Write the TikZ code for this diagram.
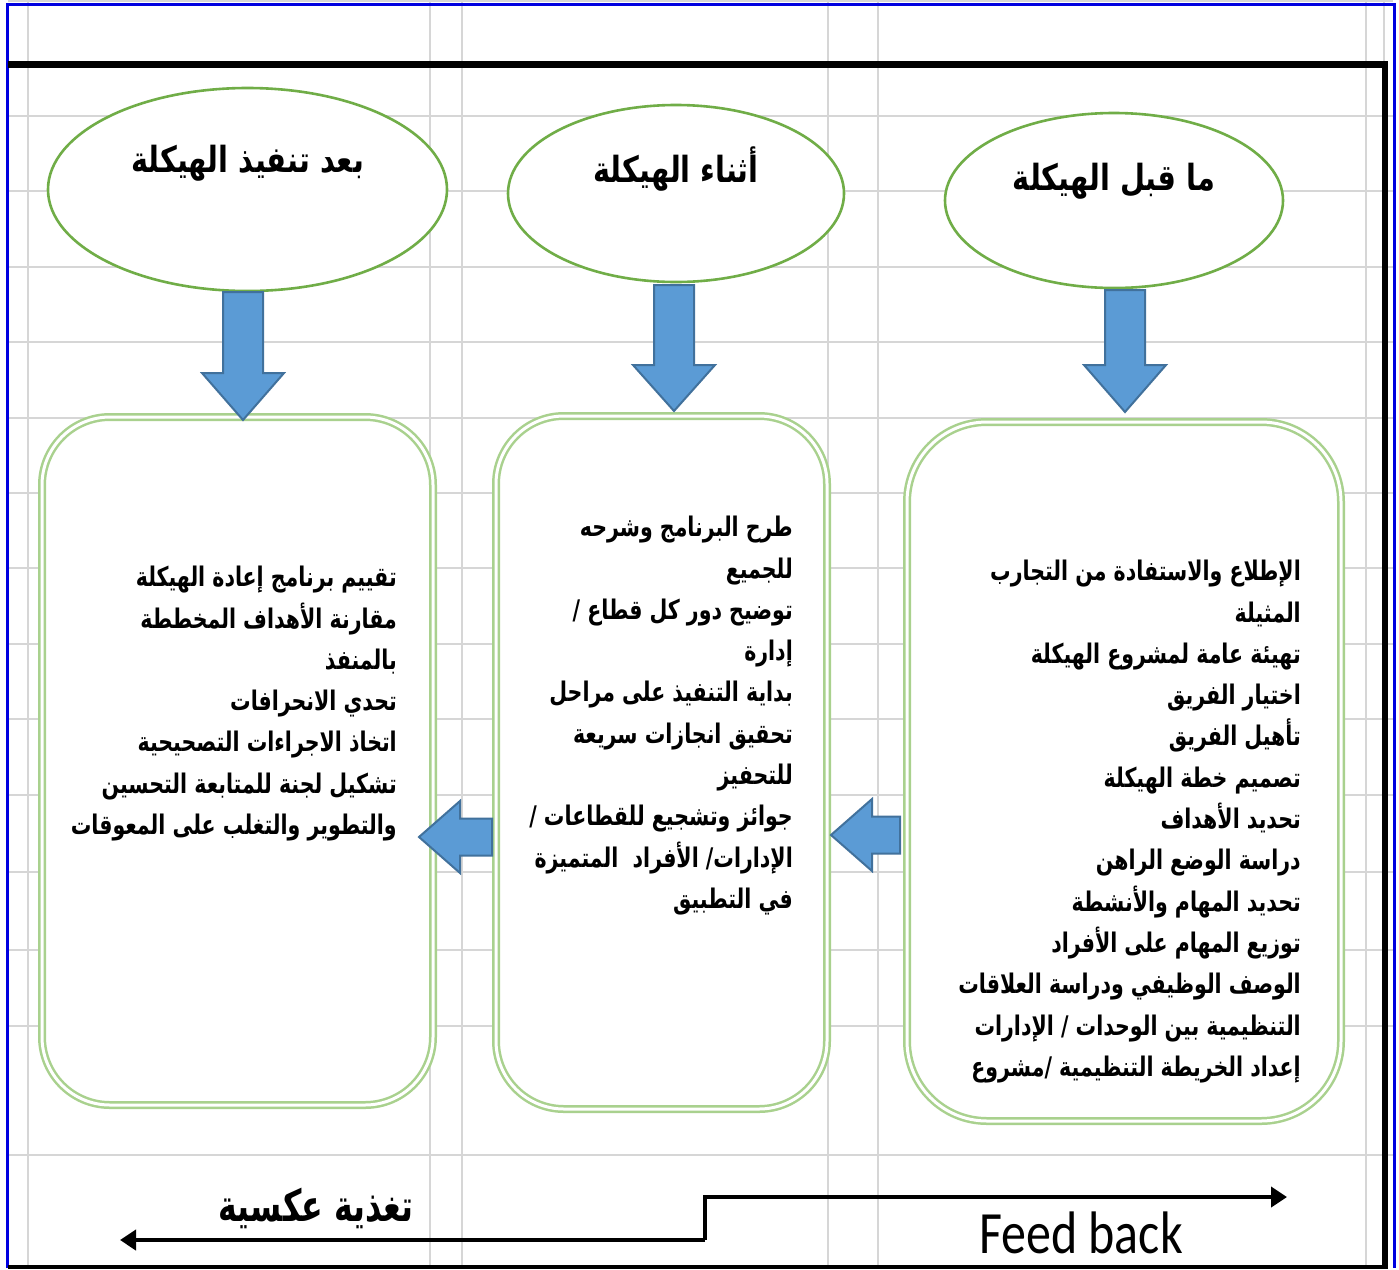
\documentclass[tikz,border=0pt]{standalone}
\usepackage{fontspec}
\TeXXeTstate=1
\newfontfamily\arabody[Script=Arabic,FakeStretch=0.76]{DejaVu Sans}
\newfontfamily\aratitle[Script=Arabic,FakeStretch=0.8]{DejaVu Sans}
\newfontfamily\arafb[Script=Arabic,FakeStretch=0.72]{DejaVu Sans}
\newfontfamily\latfont{Carlito}
\usetikzlibrary{arrows.meta,shapes.geometric}
\definecolor{gridc}{HTML}{D6D6D6}
\definecolor{ellc}{HTML}{70AD47}
\definecolor{boxc}{HTML}{A9D18E}
\definecolor{arrf}{HTML}{5B9BD5}
\definecolor{arrd}{HTML}{41719C}
\definecolor{framec}{HTML}{0000E0}
\newcommand\myR[1]{\beginR #1\endR}
\newcommand\dnarrow[4]{\draw[blockarr] (#1-20,#2) -- (#1+20,#2) -- (#1+20,#3) -- (#1+41,#3) -- (#1,#4) -- (#1-41,#3) -- (#1-20,#3) -- cycle;}
\newcommand\lfarrow[4]{\draw[blockarr] (#4,#2-18.5) -- (#3,#2-18.5) -- (#3,#2-36) -- (#1,#2) -- (#3,#2+36) -- (#3,#2+18.5) -- (#4,#2+18.5) -- cycle;}
\tikzset{
  gridline/.style={draw=gridc, line width=2.2pt},
  ell/.style={ellipse, draw=ellc, line width=2.6pt, fill=white, inner sep=0pt},
  tbox/.style={rectangle, rounded corners=68pt, draw=boxc, line width=2.5pt, double=white, double distance=3pt, fill=white, inner sep=0pt},
  blockarr/.style={fill=arrf, draw=arrd, line width=2pt, line join=miter},
  title/.style={font={\aratitle\bfseries\fontsize{36}{42}\selectfont}, inner sep=0pt},
  body/.style={font={\arabody\bfseries\fontsize{27}{41.3}\selectfont}, align=right, inner sep=0pt, anchor=north east},
  fb/.style={line width=4pt, -{Triangle[length=16pt,width=20pt]}},
}
\begin{document}
\begin{tikzpicture}[x=1pt,y=-1pt]
\useasboundingbox (0,0) rectangle (1399,1269);
\fill[white] (0,0) rectangle (1399,1269);
% grid
\foreach \gx in {28,430,462,828,878,1366,1384} \draw[gridline] (\gx,0) -- (\gx,1266);
\foreach \gy in {1,116,191,267,342,418,493,568,644,719,795,872,950,1026,1155} \draw[gridline] (8,\gy) -- (1393,\gy);
% frame
\draw[framec, line width=3pt] (7,1268) -- (7,4) -- (1394,4) -- (1394,1268);
\draw[black, line width=7pt] (8,64.5) -- (1388,64.5);
\draw[black, line width=6pt] (1385,61) -- (1385,1268);
\draw[black, line width=4pt] (8,1267) -- (1388,1267);
% ellipses
\node[ell, minimum width=399pt, minimum height=203pt] (e1) at (247.5,189.5) {};
\node[ell, minimum width=336pt, minimum height=177pt] (e2) at (676,193.5) {};
\node[ell, minimum width=338pt, minimum height=175pt] (e3) at (1114,200.5) {};
\node[title] (t1) at ([yshift=26pt]e1.center) {\myR{بعد تنفيذ الهيكلة}};
\node[title] (t2) at ([yshift=24pt]e2.center) {\myR{أثناء الهيكلة}};
\node[title] (t3) at ([yshift=19pt]e3.center) {\myR{ما قبل الهيكلة}};
% boxes
\node[tbox, minimum width=391pt, minimum height=688pt] (b1) at (237.5,761) {};
\node[tbox, minimum width=331pt, minimum height=693pt] (b2) at (661.5,762.5) {};
\node[tbox, minimum width=434pt, minimum height=699pt, rounded corners=80pt] (b3) at (1124,771.5) {};
% down arrows
\dnarrow{243}{292}{373}{420}
\dnarrow{674}{285}{365}{411}
\dnarrow{1125}{290}{365}{412}
% left arrows
\lfarrow{419}{837}{460}{492}
\lfarrow{831}{835}{872}{900}
% texts
\node[body] (x3) at (1301,560) {%
\myR{الإطلاع والاستفادة من التجارب}\\
\myR{المثيلة}\\
\myR{تهيئة عامة لمشروع الهيكلة}\\
\myR{اختيار الفريق}\\
\myR{تأهيل الفريق}\\
\myR{تصميم خطة الهيكلة}\\
\myR{تحديد الأهداف}\\
\myR{دراسة الوضع الراهن}\\
\myR{تحديد المهام والأنشطة}\\
\myR{توزيع المهام على الأفراد}\\
\myR{الوصف الوظيفي ودراسة العلاقات}\\
\myR{التنظيمية بين الوحدات / الإدارات}\\
\myR{إعداد الخريطة التنظيمية /مشروع}};
\node[body] (x2) at (793,516) {%
\myR{طرح البرنامج وشرحه}\\
\myR{للجميع}\\
\myR{توضيح دور كل قطاع /}\\
\myR{إدارة}\\
\myR{بداية التنفيذ على مراحل}\\
\myR{تحقيق انجازات سريعة}\\
\myR{للتحفيز}\\
\myR{جوائز وتشجيع للقطاعات /}\\
\myR{الإدارات/ الأفراد\ \ المتميزة}\\
\myR{في التطبيق}};
\node[body] (x1) at (397,566) {%
\myR{تقييم برنامج إعادة الهيكلة}\\
\myR{مقارنة الأهداف المخططة}\\
\myR{بالمنفذ}\\
\myR{تحدي الانحرافات}\\
\myR{اتخاذ الاجراءات التصحيحية}\\
\myR{تشكيل لجنة للمتابعة التحسين}\\
\myR{والتطوير والتغلب على المعوقات}};
% feedback
\coordinate (fbL) at (120,1240);
\coordinate (fbM1) at (705,1240);
\coordinate (fbM2) at (705,1197);
\coordinate (fbR) at (1287,1197);
\draw[fb] (fbM1) -- (fbL);
\draw[fb] (fbM1) -- (fbM2) -- (fbR);
\node[inner sep=0pt, font={\arafb\bfseries\fontsize{44}{50}\selectfont}] (ar) at (316,1208) {\myR{تغذية عكسية}};
\node[inner sep=0pt, font={\latfont\fontsize{50}{56}\selectfont}] (en) at (1081,1233) {\scalebox{1}[1.2]{Feed back}};
\end{tikzpicture}
\end{document}
